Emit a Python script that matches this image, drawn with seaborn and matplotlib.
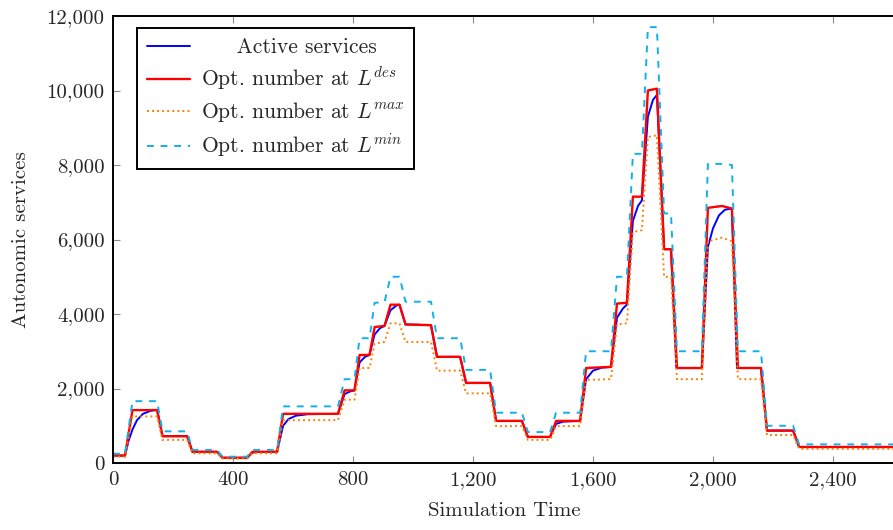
import matplotlib
matplotlib.use("Agg")
import matplotlib.pyplot as plt
from matplotlib.ticker import FuncFormatter
import seaborn as sns
import pandas as pd

# Active services (observed)
active_t = [0, 40, 52, 65, 80, 100, 125, 147, 165, 247, 265, 347, 365, 447, 465, 480, 547,
            567, 585, 610, 650, 750, 772, 790, 805, 822, 840, 855, 872, 890, 905, 925, 945, 955,
            975, 1060, 1080, 1157, 1177, 1257, 1277, 1363, 1383, 1457, 1477, 1500, 1557,
            1577, 1600, 1630, 1660, 1680, 1700, 1713, 1733, 1750, 1763, 1783, 1800, 1813,
            1837, 1860, 1878, 1963, 1983, 2000, 2020, 2040, 2063, 2080, 2160, 2180, 2267, 2287, 2600]
active_n = [200, 200, 600, 900, 1150, 1320, 1400, 1430, 720, 720, 300, 300, 140, 140, 280, 295, 300,
            1000, 1180, 1270, 1310, 1320, 1850, 1920, 1950, 2700, 2850, 2900, 3450, 3620, 3680, 4100, 4230, 4250,
            3720, 3700, 2850, 2850, 2150, 2150, 1130, 1130, 700, 700, 1050, 1110, 1130,
            2250, 2480, 2560, 2580, 3900, 4150, 4250, 6500, 6900, 7050, 9300, 9750, 9880,
            5740, 5740, 2550, 2550, 5800, 6300, 6650, 6800, 6830, 2550, 2550, 870, 870, 430, 430]

# Optimal number at the desired, maximum and minimum load levels
opt_t = [0, 40, 65, 147, 165, 247, 265, 347, 365, 447, 465, 547, 567, 750, 772, 805, 822, 855,
         872, 905, 925, 955, 975, 1060, 1080, 1157, 1177, 1257, 1277, 1363, 1383, 1457, 1477, 1557,
         1577, 1660, 1680, 1713, 1733, 1763, 1783, 1813, 1837, 1860, 1880, 1963, 1983, 2030, 2063,
         2083, 2160, 2180, 2267, 2287, 2600]
opt_des = [200, 200, 1420, 1420, 720, 720, 300, 300, 140, 140, 300, 300, 1320, 1320, 1950, 1950, 2900, 2900,
           3650, 3680, 4250, 4250, 3720, 3700, 2850, 2850, 2150, 2150, 1130, 1130, 700, 700, 1130, 1130,
           2550, 2580, 4280, 4300, 7150, 7150, 10000, 10050, 5740, 5740, 2550, 2550, 6850, 6900, 6830,
           2550, 2550, 870, 870, 430, 430]
opt_max = [170, 170, 1250, 1250, 620, 620, 260, 260, 120, 120, 260, 260, 1150, 1150, 1700, 1700, 2550, 2550,
           3200, 3250, 3750, 3750, 3250, 3250, 2480, 2480, 1870, 1870, 990, 990, 620, 620, 990, 990,
           2230, 2250, 3720, 3750, 6200, 6250, 8750, 8800, 5000, 4990, 2250, 2250, 5950, 6050, 5950,
           2250, 2250, 750, 750, 380, 380]
opt_min = [250, 250, 1660, 1660, 850, 850, 350, 350, 170, 170, 350, 350, 1520, 1520, 2250, 2250, 3350, 3350,
           4300, 4320, 5000, 5000, 4330, 4330, 3350, 3350, 2500, 2500, 1350, 1350, 830, 830, 1350, 1350,
           3000, 3000, 5000, 5000, 8300, 8300, 11700, 11700, 6700, 6700, 3000, 3000, 8030, 8030, 8000,
           3000, 3000, 1000, 1000, 500, 500]

x_ticks = [0, 400, 800, 1200, 1600, 2000, 2400]
y_ticks = [0, 2000, 4000, 6000, 8000, 10000, 12000]

sns.set_style("ticks")
plt.rcParams["font.family"] = ["cmr10", "DejaVu Serif"]
plt.rcParams["mathtext.fontset"] = "cm"
plt.rcParams["axes.formatter.use_mathtext"] = True

fig = plt.figure(figsize=(8.93, 5.30), dpi=100)
x_max = 2612
ax = fig.add_axes([113 / 893, 1 - 463 / 530, (780 / 893) * (x_max / 2600), 447 / 530])

active = pd.DataFrame({"t": active_t, "n": active_n})
opt = pd.DataFrame({"t": opt_t, "des": opt_des, "max": opt_max, "min": opt_min})

sns.lineplot(data=active, x="t", y="n", ax=ax, color="#0000ff", lw=1.4,
             sort=False, estimator=None, label="     Active services")
sns.lineplot(data=opt, x="t", y="des", ax=ax, color="#ff0000", lw=1.7,
             sort=False, estimator=None, label="Opt. number at $L^{des}$")
sns.lineplot(data=opt, x="t", y="max", ax=ax, color="#ff8000", lw=1.4,
             sort=False, estimator=None, label="Opt. number at $L^{max}$")
sns.lineplot(data=opt, x="t", y="min", ax=ax, color="#12b0ea", lw=1.4,
             sort=False, estimator=None, label="Opt. number at $L^{min}$")
ax.lines[3].set_dashes([3.5, 3.5])
ax.lines[2].set_dashes([1, 1.6])

ax.set_xlim(0, x_max)
ax.set_ylim(0, 12000)
ax.set_xticks(x_ticks)
ax.set_yticks(y_ticks)
fmt = FuncFormatter(lambda v, p: f"{int(v):,}")
ax.xaxis.set_major_formatter(fmt)
ax.yaxis.set_major_formatter(fmt)
ax.tick_params(direction="in", length=5, width=0.8, color="0.55",
               labelsize=15, top=True, right=False, pad=6)
for s in ["top", "bottom", "left"]:
    ax.spines[s].set_linewidth(1.4)
    ax.spines[s].set_color("black")
ax.spines["right"].set_visible(False)

ax.set_xlabel("Simulation Time", fontsize=15, labelpad=9)
ax.set_ylabel("Autonomic services", fontsize=15, labelpad=12)

leg = ax.legend(loc="upper left", bbox_to_anchor=(24 / 780 * 2600 / x_max, 1 - 12 / 447),
                borderaxespad=0, fontsize=15.5, handlelength=2.0, labelspacing=0.36,
                fancybox=False, framealpha=1, edgecolor="black", borderpad=0.45,
                handletextpad=0.5)
leg.get_frame().set_linewidth(1.4)

fig.savefig("out.png", dpi=100)
